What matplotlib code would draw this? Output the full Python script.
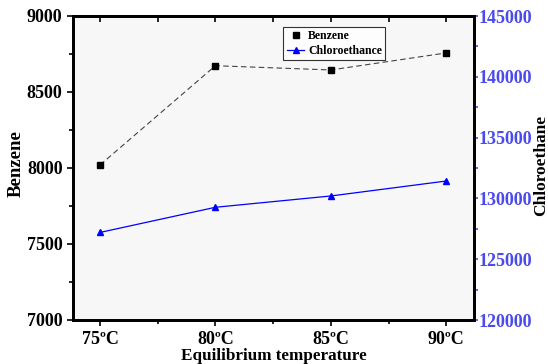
import matplotlib.pyplot as plt
from matplotlib.lines import Line2D

temps = [75, 80, 85, 90]
temp_labels = ['75ºC', '80ºC', '85ºC', '90ºC']
benzene = [8020, 8673, 8645, 8757]
chloroethane = [127200, 129270, 130200, 131430]

plt.rcParams['font.family'] = ['Liberation Serif', 'DejaVu Serif']
plt.rcParams['font.weight'] = 'bold'

fig = plt.figure(figsize=(5.48, 3.64), dpi=100)
ax = fig.add_axes([73 / 548, 1 - 320 / 364, 401 / 548, 304 / 364])
ax.set_facecolor('#f7f7f7')
ax2 = ax.twinx()

ax.plot(temps, benzene, color='#444444', lw=0.8, ls=(0, (5, 3)),
        marker='s', ms=5, mfc='black', mec='black')
l2, = ax2.plot(temps, chloroethane, color='blue', lw=0.9,
               marker='^', ms=5, mfc='blue', mec='blue')

ax.set_xlim(73.83, 91.2)
ax.set_ylim(7000, 9000)
ax2.set_ylim(120000, 145000)
ax.set_xticks(temps)
ax.set_xticklabels(temp_labels)
ax.set_xticks([77.5, 82.5, 87.5], minor=True)
ax.set_yticks([7000, 7500, 8000, 8500, 9000])
ax.set_yticks([7250, 7750, 8250, 8750], minor=True)
ax2.set_yticks([120000, 125000, 130000, 135000, 140000, 145000])
ax2.set_yticks([122500, 127500, 132500, 137500, 142500], minor=True)

# top ticks point inward
top = ax.secondary_xaxis('top')
top.set_xticks(temps)
top.set_xticks([77.5, 82.5, 87.5], minor=True)
top.tick_params(axis='x', which='both', direction='in', length=4, width=1.2,
                labeltop=False)
top.spines['top'].set_linewidth(2)

for sp in ax.spines.values():
    sp.set_linewidth(2)
for sp in ax2.spines.values():
    sp.set_linewidth(2)

ax.tick_params(axis='both', which='both', labelsize=13, width=1.2)
ax.tick_params(axis='x', which='major', length=4, pad=4)
ax.tick_params(axis='x', which='minor', length=3)
ax.tick_params(axis='y', which='major', length=4)
ax.tick_params(axis='y', which='minor', length=3)
ax2.tick_params(axis='y', which='both', colors='#4a4aee', labelsize=13, width=1.2, pad=0)
ax2.tick_params(axis='y', which='major', length=3)
ax2.tick_params(axis='y', which='minor', length=3)

ax.set_xlabel('Equilibrium temperature', fontsize=12.3, fontweight='bold', labelpad=0)
fig.text(16 / 548, 1 - 164 / 364, 'Benzene', rotation=90, fontsize=13.5,
         fontweight='bold', ha='center', va='center')
fig.text(541.5 / 548, 1 - 165 / 364, 'Chloroethane', rotation=90, fontsize=12.5,
         fontweight='bold', ha='center', va='center')

h1 = Line2D([], [], ls='none', marker='s', ms=5, mfc='black', mec='black')
leg = ax.legend([h1, l2], ['Benzene', 'Chloroethance'], loc='upper left',
                bbox_to_anchor=(0.524, 0.964), borderaxespad=0, fontsize=8.5,
                frameon=True, fancybox=False, edgecolor='black', handlelength=1.5,
                handletextpad=0.3, borderpad=0.3, labelspacing=0.2)
leg.get_frame().set_linewidth(0.8)

fig.savefig('out.png', dpi=100)
